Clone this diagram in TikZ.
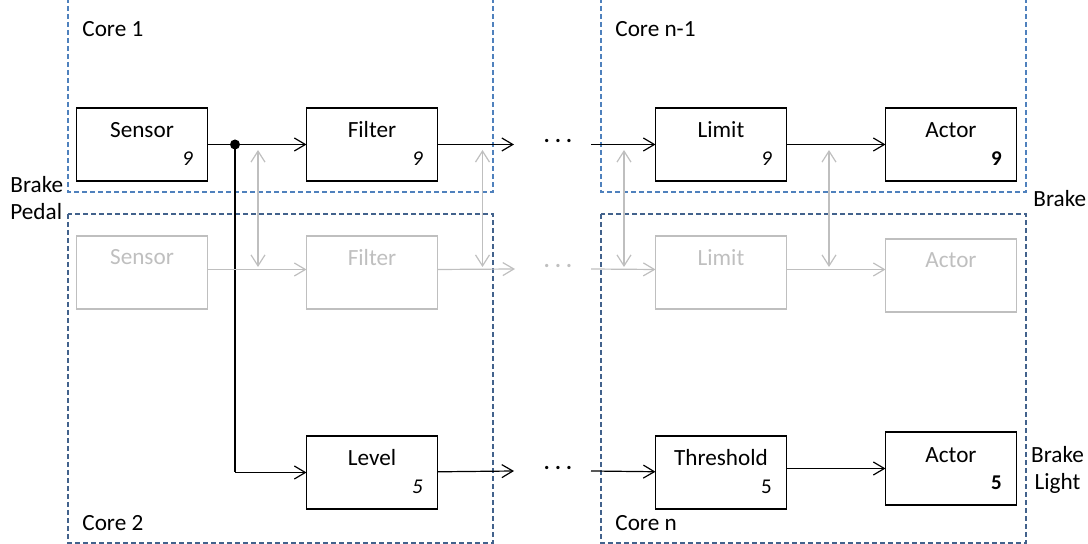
\documentclass[tikz,border=0pt]{standalone}
\usepackage{fontspec}
\setmainfont{Carlito}
\usetikzlibrary{positioning, arrows.meta}
\definecolor{coreblue}{RGB}{79,129,189}
\definecolor{coredark}{RGB}{66,98,140}
\definecolor{ghostgray}{RGB}{191,191,191}

\begin{document}
\begin{tikzpicture}[x=0.5pt, y=-0.5pt, node distance=49.5pt,
    font=\fontsize{11.6}{13.5}\selectfont,
    block/.style={draw, line width=0.6pt, minimum width=65.5pt, minimum height=36.5pt, inner sep=0pt, outer sep=0pt},
    ghost/.style={block, draw=ghostgray},
    core/.style={draw=coreblue, line width=0.6pt, dash pattern=on 2.5pt off 1.5pt},
    flow/.style={-{Straight Barb[length=5.5pt, width=6.5pt]}, line width=0.6pt},
    dim/.style={flow, draw=ghostgray},
    sync/.style={{Straight Barb[length=5.5pt, width=7pt]}-{Straight Barb[length=5.5pt, width=7pt]}, draw=ghostgray, line width=0.6pt},
    nr/.style={font=\fontsize{10.5}{12}\selectfont},
    plain/.style={inner sep=0pt}]
    \clip (0,0) rectangle (1088,544);

    % cores
    \draw[core] (68,-10) rectangle (493,192);
    \draw[core] (601,-10) rectangle (1026,192);
    \draw[core, draw=coredark] (68,214) rectangle (493,543);
    \draw[core, draw=coredark] (601,214) rectangle (1026,543);
    \node[plain, anchor=west] (core1) at (82,29) {Core 1};
    \node[plain, anchor=west] (coren1) at (615,29) {Core n-1};
    \node[plain, anchor=west] (core2) at (82,523) {Core 2};
    \node[plain, anchor=west] (coren) at (615,523) {Core n};

    % main chain
    \node[block, label={[yshift=7.25pt]center:Sensor}, label={[xshift=22.75pt, yshift=-7.25pt, nr]center:\textit{9}}] (sensor) at (142,144.5) {};
    \node[block, right=of sensor, label={[yshift=7.25pt]center:Filter}, label={[xshift=22.75pt, yshift=-7.25pt, nr]center:\textit{9}}] (filter) {};
    \node[block, label={[yshift=7.25pt]center:Limit}, label={[xshift=22.75pt, yshift=-7.25pt, nr]center:\textit{9}}] (limit) at (721,144.5) {};
    \node[block, right=of limit, label={[yshift=7.25pt]center:Actor}, label={[xshift=22.75pt, yshift=-7.25pt, nr]center:\textbf{9}}] (actor) {};

    % replica, greyed out
    \node[ghost, below=27.5pt of sensor, label={[yshift=7.5pt, text=ghostgray]center:Sensor}] (gsensor) {};
    \node[ghost, below=27.5pt of filter, label={[yshift=7.5pt, text=ghostgray]center:Filter}] (gfilter) {};
    \node[ghost, below=27.5pt of limit, label={[yshift=7.5pt, text=ghostgray]center:Limit}] (glimit) {};
    \node[ghost, below=29pt of actor, label={[yshift=7.5pt, text=ghostgray]center:Actor}] (gactor) {};

    % light chain
    \node[block, below=63.5pt of gfilter, label={[yshift=7.5pt]center:Level}, label={[xshift=22.75pt, yshift=-7pt, nr]center:\textit{5}}] (level) {};
    \node[block, below=63.5pt of glimit, label={[yshift=7.5pt]center:Threshold}, label={[xshift=22.75pt, yshift=-7pt, nr]center:5}] (threshold) {};
    \node[block, below=60pt of gactor, label={[yshift=6.5pt]center:Actor}, label={[xshift=22.75pt, yshift=-7pt, nr]center:\textbf{5}}] (actor2) {};

    \node[plain, align=left, anchor=west] (pedal) at (10,198.5) {Brake\\Pedal};
    \node[plain, anchor=west] (brake) at (1033,199) {Brake};
    \node[plain, align=center] (light) at (1057.5,470) {Brake\\Light};

    % top arrows
    \coordinate (split) at (235,144.5);
    \coordinate (fout) at (514,144.5);
    \coordinate (lin) at (591,144.5);
    \coordinate (bend) at (split |- level.west);
    \draw[flow] (sensor) -- (filter);
    \draw[flow] (filter) -- (fout);
    \node (dots1) at (558,143) {· · ·};
    \draw[flow] (lin) -- (limit);
    \draw[flow] (limit) -- (actor);
    \draw[line width=1pt] (split) -- (bend);
    \draw[flow] (bend) -- (level);
    \fill (split) circle (2.5pt);

    % grey arrows
    \coordinate (gfout) at (515,269);
    \coordinate (glin) at (591,269);
    \coordinate (gsync) at ([yshift=1.5pt]glimit.east);
    \draw[dim] ([yshift=1.5pt]gsensor.east) -- ([yshift=1.5pt]gfilter.west);
    \draw[dim] ([yshift=1.5pt]gfilter.east) -- (gfout);
    \node[text=ghostgray] (dots2) at (558,268) {· · ·};
    \draw[dim] (glin) -- ([yshift=1.5pt]glimit.west);
    \draw[dim] (gsync) -- (gsync -| gactor.west);
    \foreach \x [count=\i] in {258,482.5,624,829} {
        \coordinate (up\i) at (\x,150);
        \coordinate (down\i) at (\x,267);
        \draw[sync] (up\i) -- (down\i);
    }

    % bottom arrows
    \coordinate (lout) at (514,471);
    \coordinate (tin) at (591,471);
    \draw[flow] (level) -- (lout);
    \node (dots3) at (558,470) {· · ·};
    \draw[flow] (tin) -- (threshold);
    \draw[flow] (threshold.east |- actor2.west) -- (actor2.west);
\end{tikzpicture}
\end{document}
